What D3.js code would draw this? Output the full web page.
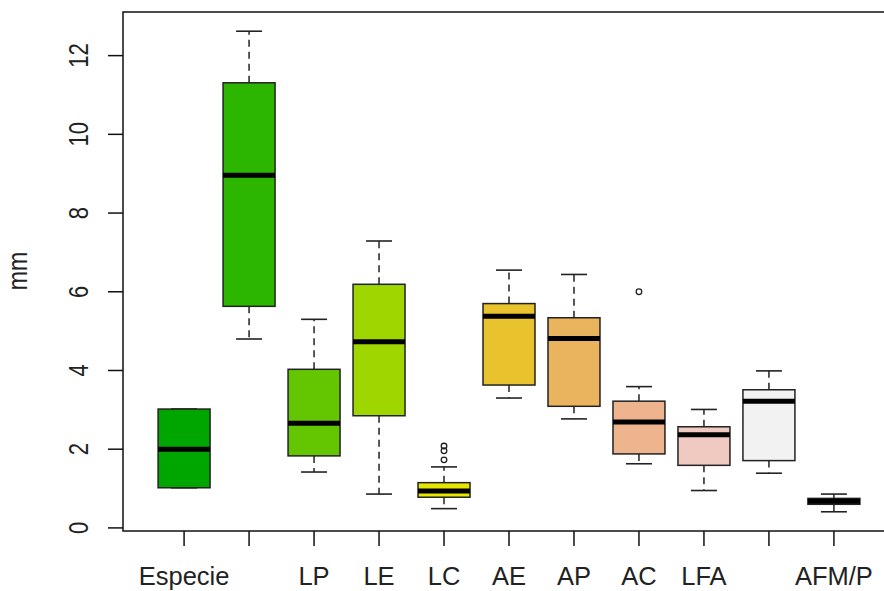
<!DOCTYPE html>
<html>
<head>
<meta charset="utf-8">
<script src="https://cdn.jsdelivr.net/npm/d3@7"></script>
<style>
  body { margin: 0; background: #fff; }
  svg { display: block; font-family: "Liberation Sans", Arial, sans-serif; }
</style>
</head>
<body>
<svg width="884" height="591"></svg>
<script>
// dados
const categories = ["Especie", "", "LP", "LE", "LC", "AE", "AP", "AC", "LFA", "", "AFM/P"];
const whiskerLow = [1.02, 4.80, 1.42, 0.86, 0.49, 3.30, 2.77, 1.63, 0.95, 1.39, 0.41];
const q1 = [1.02, 5.63, 1.83, 2.85, 0.78, 3.63, 3.09, 1.88, 1.59, 1.71, 0.60];
const medians = [2.00, 8.96, 2.66, 4.73, 0.94, 5.38, 4.81, 2.69, 2.37, 3.22, 0.68];
const q3 = [3.02, 11.31, 4.03, 6.19, 1.15, 5.70, 5.34, 3.22, 2.57, 3.51, 0.75];
const whiskerHigh = [3.02, 12.62, 5.30, 7.29, 1.55, 6.55, 6.44, 3.59, 3.01, 3.99, 0.86];
const outliers = [[], [], [], [], [1.73, 1.96, 2.08], [], [], [6.00], [], [], []];
const colors = ["#00A600", "#2DB600", "#63C600", "#A0D600", "#E6E600", "#E8C32E",
                "#EAB35E", "#EDB48E", "#F0C9C0", "#F2F2F2", "#00A600"];
const yTicks = [0, 2, 4, 6, 8, 10, 12];

const data = categories.map((c, i) => ({
    pos: i + 1,
    label: c,
    lo: whiskerLow[i], q1: q1[i], med: medians[i], q3: q3[i], hi: whiskerHigh[i],
    out: outliers[i],
    color: colors[i]
}));

const svg = d3.select('svg');
const frame = { left: 123, right: 895, top: 12, bottom: 531 };

// eixo x como no R: posicoes 1..n com 4% de folga
const n = categories.length;
const xr = [0.5, n + 0.5];
const xPad = (xr[1] - xr[0]) * 0.04;
const x = d3.scaleLinear()
    .domain([xr[0] - xPad, xr[1] + xPad])
    .range([frame.left, frame.right]);

const yMin = d3.min(data, d => d3.min([d.lo, ...d.out]));
const yMax = d3.max(data, d => d3.max([d.hi, ...d.out]));
const yPad = (yMax - yMin) * 0.04;
const y = d3.scaleLinear()
    .domain([yMin - yPad, yMax + yPad])
    .range([frame.bottom, frame.top]);

const boxW = 0.8, stapleW = 0.4;

const g = svg.append('g');

const boxes = g.selectAll('g.box').data(data).enter().append('g').attr('class', 'box');

// bigodes tracejados
boxes.append('line')
    .attr('x1', d => x(d.pos)).attr('x2', d => x(d.pos))
    .attr('y1', d => y(d.q3)).attr('y2', d => y(d.hi))
    .attr('stroke', '#222').attr('stroke-width', 1.5).attr('stroke-dasharray', '7,5');
boxes.append('line')
    .attr('x1', d => x(d.pos)).attr('x2', d => x(d.pos))
    .attr('y1', d => y(d.q1)).attr('y2', d => y(d.lo))
    .attr('stroke', '#222').attr('stroke-width', 1.5).attr('stroke-dasharray', '7,5');

// grampos
['hi', 'lo'].forEach(k => {
    boxes.append('line')
        .attr('x1', d => x(d.pos - stapleW / 2)).attr('x2', d => x(d.pos + stapleW / 2))
        .attr('y1', d => y(d[k])).attr('y2', d => y(d[k]))
        .attr('stroke', '#222').attr('stroke-width', 1.6);
});

// caixas
boxes.append('rect')
    .attr('x', d => x(d.pos - boxW / 2))
    .attr('width', d => x(d.pos + boxW / 2) - x(d.pos - boxW / 2))
    .attr('y', d => y(d.q3))
    .attr('height', d => y(d.q1) - y(d.q3))
    .attr('fill', d => d.color)
    .attr('stroke', '#222').attr('stroke-width', 1.5);

// mediana
boxes.append('line')
    .attr('x1', d => x(d.pos - boxW / 2)).attr('x2', d => x(d.pos + boxW / 2))
    .attr('y1', d => y(d.med)).attr('y2', d => y(d.med))
    .attr('stroke', '#000').attr('stroke-width', 5);

// outliers
boxes.each(function (d) {
    d3.select(this).selectAll('circle').data(d.out).enter().append('circle')
        .attr('cx', x(d.pos))
        .attr('cy', v => y(v))
        .attr('r', 2.8)
        .attr('fill', 'none')
        .attr('stroke', '#222').attr('stroke-width', 1.3);
});

// moldura
svg.append('rect')
    .attr('x', frame.left).attr('y', frame.top)
    .attr('width', frame.right - frame.left).attr('height', frame.bottom - frame.top)
    .attr('fill', 'none').attr('stroke', '#111').attr('stroke-width', 1.5);

// Eixos
const yAxis = svg.append('g');
yAxis.selectAll('line').data(yTicks).enter().append('line')
    .attr('x1', frame.left - 15).attr('x2', frame.left)
    .attr('y1', d => y(d)).attr('y2', d => y(d))
    .attr('stroke', '#111').attr('stroke-width', 1.5);
yAxis.selectAll('text').data(yTicks).enter().append('text')
    .attr('transform', d => `translate(88, ${y(d)}) rotate(-90) scale(1, 1.25)`)
    .attr('text-anchor', 'middle')
    .attr('font-size', 22)
    .attr('fill', '#222')
    .text(d => d);

const xAxis = svg.append('g');
xAxis.selectAll('line').data(data).enter().append('line')
    .attr('x1', d => x(d.pos)).attr('x2', d => x(d.pos))
    .attr('y1', frame.bottom).attr('y2', frame.bottom + 15)
    .attr('stroke', '#111').attr('stroke-width', 1.5);
xAxis.selectAll('text').data(data).enter().append('text')
    .attr('x', d => x(d.pos)).attr('y', 585)
    .attr('text-anchor', 'middle')
    .attr('font-size', 25.5)
    .attr('fill', '#222')
    .text(d => d.label);

svg.append('text')
    .attr('transform', `translate(27, 271) rotate(-90) scale(1, 1.2)`)
    .attr('text-anchor', 'middle')
    .attr('font-size', 23)
    .attr('fill', '#222')
    .text('mm');
</script>
</body>
</html>
